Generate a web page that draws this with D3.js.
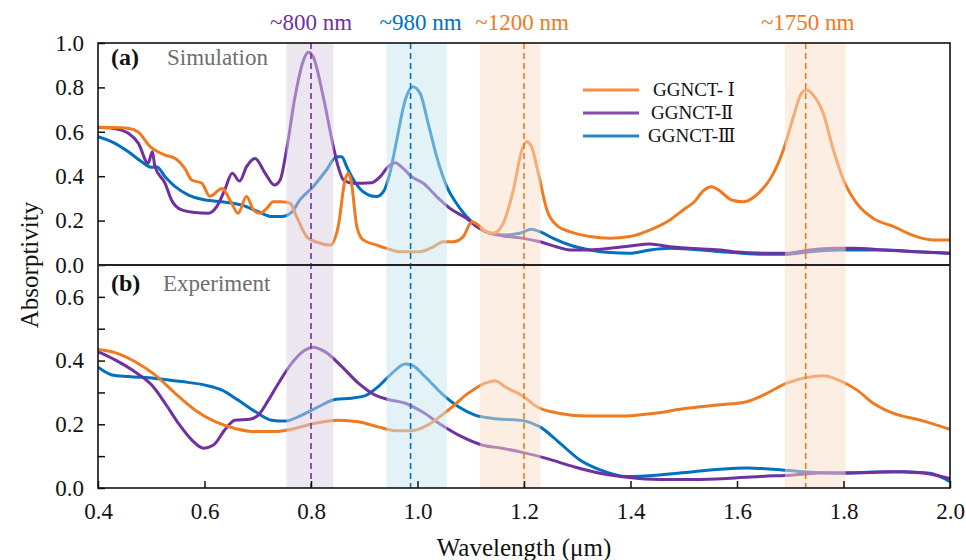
<!DOCTYPE html>
<html>
<head>
<meta charset="utf-8">
<script src="https://cdn.jsdelivr.net/npm/d3@7"></script>
<style>
  body { margin: 0; background: #fff; }
  text { font-family: "Liberation Serif", "Times New Roman", serif; }
</style>
</head>
<body>
<svg id="chart" width="966" height="560"></svg>
<script>
// ---- data (wavelength in um, absorptivity) ----
var seriesNames = ["GGNCT- ", "GGNCT-", "GGNCT-"];
var seriesNumerals = ["\u2160", "\u2161", "\u2162"];
var seriesColors = ["#F07A20", "#7030A0", "#0070C0"];

var simI = [[0.40,0.62],[0.456,0.616],[0.475,0.60],[0.498,0.533],[0.526,0.495],[0.545,0.48],[0.563,0.435],[0.576,0.383],[0.595,0.368],[0.610,0.31],[0.633,0.345],[0.651,0.278],[0.663,0.233],[0.679,0.308],[0.692,0.248],[0.704,0.233],[0.717,0.255],[0.729,0.285],[0.745,0.285],[0.761,0.278],[0.773,0.218],[0.792,0.128],[0.817,0.098],[0.836,0.09],[0.851,0.173],[0.864,0.383],[0.870,0.413],[0.876,0.368],[0.886,0.173],[0.898,0.113],[0.923,0.09],[0.942,0.075],[0.967,0.06],[1.005,0.06],[1.030,0.082],[1.048,0.105],[1.067,0.105],[1.086,0.128],[1.102,0.195],[1.114,0.18],[1.124,0.158],[1.142,0.143],[1.161,0.188],[1.180,0.338],[1.196,0.518],[1.205,0.555],[1.214,0.533],[1.227,0.413],[1.243,0.248],[1.261,0.18],[1.286,0.15],[1.324,0.128],[1.361,0.12],[1.399,0.128],[1.437,0.158],[1.474,0.203],[1.499,0.248],[1.52,0.285],[1.537,0.335],[1.552,0.353],[1.567,0.335],[1.590,0.293],[1.612,0.285],[1.640,0.323],[1.665,0.398],[1.687,0.518],[1.706,0.668],[1.721,0.773],[1.730,0.788],[1.743,0.766],[1.762,0.683],[1.781,0.518],[1.800,0.383],[1.825,0.278],[1.856,0.21],[1.894,0.173],[1.937,0.128],[1.969,0.113],[2.0,0.113]];

var simII = [[0.40,0.62],[0.43,0.615],[0.457,0.593],[0.476,0.548],[0.494,0.458],[0.502,0.51],[0.507,0.443],[0.526,0.368],[0.538,0.293],[0.557,0.248],[0.582,0.236],[0.607,0.233],[0.623,0.263],[0.638,0.338],[0.652,0.413],[0.666,0.378],[0.679,0.443],[0.695,0.48],[0.714,0.413],[0.731,0.36],[0.742,0.383],[0.754,0.518],[0.770,0.758],[0.786,0.923],[0.795,0.958],[0.804,0.938],[0.823,0.758],[0.842,0.533],[0.851,0.443],[0.861,0.383],[0.880,0.368],[0.914,0.371],[0.930,0.398],[0.945,0.443],[0.958,0.461],[0.973,0.435],[0.989,0.398],[1.011,0.368],[1.036,0.308],[1.061,0.255],[1.092,0.21],[1.11,0.175],[1.13,0.148],[1.161,0.131],[1.199,0.12],[1.230,0.105],[1.261,0.082],[1.286,0.068],[1.324,0.068],[1.361,0.075],[1.399,0.086],[1.437,0.095],[1.474,0.082],[1.512,0.075],[1.568,0.068],[1.593,0.06],[1.656,0.053],[1.693,0.053],[1.737,0.068],[1.781,0.075],[1.818,0.075],[1.875,0.068],[1.937,0.06],[2.0,0.053]];

var simIII = [[0.40,0.578],[0.432,0.548],[0.457,0.51],[0.482,0.465],[0.501,0.44],[0.51,0.443],[0.526,0.398],[0.545,0.353],[0.570,0.315],[0.595,0.296],[0.632,0.285],[0.670,0.27],[0.701,0.24],[0.726,0.218],[0.745,0.218],[0.764,0.238],[0.779,0.293],[0.804,0.353],[0.829,0.428],[0.848,0.488],[0.858,0.488],[0.867,0.443],[0.880,0.383],[0.898,0.33],[0.923,0.308],[0.936,0.33],[0.948,0.413],[0.961,0.563],[0.977,0.743],[0.991,0.803],[1.005,0.773],[1.020,0.638],[1.036,0.488],[1.055,0.353],[1.073,0.278],[1.092,0.218],[1.117,0.165],[1.13,0.148],[1.161,0.135],[1.192,0.143],[1.214,0.161],[1.230,0.15],[1.255,0.12],[1.286,0.09],[1.324,0.068],[1.361,0.056],[1.399,0.053],[1.437,0.068],[1.474,0.075],[1.512,0.071],[1.568,0.06],[1.593,0.056],[1.656,0.048],[1.693,0.048],[1.737,0.06],[1.793,0.068],[1.875,0.068],[1.937,0.06],[2.0,0.053]];

var expI = [[0.40,0.435],[0.432,0.425],[0.469,0.397],[0.507,0.355],[0.545,0.297],[0.582,0.245],[0.620,0.208],[0.657,0.187],[0.695,0.177],[0.732,0.177],[0.770,0.187],[0.807,0.203],[0.851,0.213],[0.889,0.208],[0.926,0.192],[0.958,0.18],[0.989,0.18],[1.020,0.198],[1.058,0.245],[1.095,0.297],[1.127,0.329],[1.146,0.337],[1.164,0.318],[1.199,0.287],[1.224,0.255],[1.268,0.234],[1.318,0.226],[1.380,0.226],[1.443,0.234],[1.505,0.25],[1.568,0.261],[1.618,0.271],[1.656,0.297],[1.693,0.329],[1.731,0.347],[1.762,0.352],[1.793,0.337],[1.825,0.308],[1.856,0.266],[1.894,0.234],[1.944,0.213],[2.0,0.184]];

var expII = [[0.40,0.428],[0.432,0.402],[0.469,0.365],[0.501,0.323],[0.526,0.266],[0.551,0.203],[0.576,0.151],[0.598,0.125],[0.617,0.135],[0.638,0.182],[0.657,0.213],[0.685,0.216],[0.701,0.229],[0.720,0.276],[0.739,0.329],[0.764,0.392],[0.789,0.433],[0.804,0.442],[0.826,0.428],[0.858,0.381],[0.889,0.329],[0.920,0.292],[0.945,0.278],[0.977,0.266],[1.008,0.24],[1.045,0.198],[1.083,0.161],[1.121,0.135],[1.158,0.125],[1.199,0.111],[1.242,0.093],[1.293,0.067],[1.343,0.046],[1.393,0.034],[1.455,0.027],[1.518,0.027],[1.581,0.03],[1.643,0.036],[1.706,0.041],[1.768,0.048],[1.831,0.048],[1.894,0.051],[1.944,0.048],[2.0,0.03]];

var expIII = [[0.40,0.379],[0.41,0.368],[0.426,0.355],[0.457,0.35],[0.507,0.344],[0.557,0.334],[0.601,0.323],[0.632,0.308],[0.663,0.276],[0.695,0.24],[0.726,0.213],[0.751,0.21],[0.783,0.229],[0.814,0.255],[0.845,0.278],[0.876,0.282],[0.901,0.289],[0.926,0.318],[0.952,0.36],[0.977,0.389],[0.989,0.386],[1.014,0.35],[1.045,0.297],[1.077,0.255],[1.108,0.229],[1.139,0.219],[1.199,0.211],[1.230,0.192],[1.268,0.14],[1.305,0.088],[1.343,0.057],[1.393,0.036],[1.455,0.041],[1.518,0.051],[1.568,0.059],[1.618,0.063],[1.668,0.059],[1.731,0.05],[1.793,0.046],[1.856,0.05],[1.912,0.051],[1.962,0.046],[2.0,0.02]];

// highlighted resonance bands [from, to] and their centre markers
var bandRanges = [[0.754,0.842],[0.942,1.055],[1.117,1.231],[1.69,1.804]];
var bandMarkers = [0.80, 0.987, 1.20, 1.729];
var bandLabels = ["~800 nm", "~980 nm", "~1200 nm", "~1750 nm"];
var bandFills = ["#D9CDE1", "#C7E5EF", "#FBDDC9"];
var bandLineColors = ["#7030A0", "#0070C0", "#F07A20", "#F07A20"];
var bandFillIdx = [0, 1, 2, 2];

var xTicks = [0.4, 0.6, 0.8, 1.0, 1.2, 1.4, 1.6, 1.8, 2.0];
var yTicksA = [0, 0.2, 0.4, 0.6, 0.8, 1.0];
var yTicksB = [0, 0.1, 0.2, 0.3, 0.4, 0.5, 0.6];

(function() {
  var svg = d3.select("#chart");
  var left = 98, right = 950, topY = 43, midY = 265, bottom = 488;
  var serif = "'Liberation Serif', 'Times New Roman', serif";

  var x = d3.scaleLinear().domain([0.4, 2.0]).range([left, right]);
  var ya = d3.scaleLinear().domain([0, 1.0]).range([midY, topY]);
  var yb = d3.scaleLinear().domain([0, 0.7]).range([bottom, midY]);

  var defs = svg.append("defs");
  defs.append("clipPath").attr("id", "clipA")
    .append("rect").attr("x", left).attr("y", topY).attr("width", right - left).attr("height", midY - topY);
  defs.append("clipPath").attr("id", "clipB")
    .append("rect").attr("x", left).attr("y", midY).attr("width", right - left).attr("height", bottom - midY);

  function drawLines(data, yScale, clip) {
    var g = svg.append("g").attr("clip-path", "url(#" + clip + ")");
    var line = d3.line()
      .x(function(d) { return x(d[0]); })
      .y(function(d) { return yScale(d[1]); })
      .curve(d3.curveMonotoneX);
    [2, 1, 0].forEach(function(i) {
      g.append("path")
        .attr("d", line(data[i]))
        .attr("fill", "none")
        .attr("stroke", seriesColors[i])
        .attr("stroke-width", 3)
        .attr("stroke-linejoin", "round")
        .attr("stroke-linecap", "round");
    });
  }

  drawLines([simI, simII, simIII], ya, "clipA");
  drawLines([expI, expII, expIII], yb, "clipB");

  // bands (semi-transparent, over the lines)
  svg.append("g").selectAll("rect")
    .data(bandRanges)
    .enter()
    .append("rect")
      .attr("x", function(d) { return x(d[0]); })
      .attr("y", topY)
      .attr("width", function(d) { return x(d[1]) - x(d[0]); })
      .attr("height", bottom - topY)
      .style("fill", function(d, i) { return bandFills[bandFillIdx[i]]; })
      .style("opacity", 0.5);

  svg.append("g").selectAll("line")
    .data(bandMarkers)
    .enter()
    .append("line")
      .attr("x1", function(d) { return x(d); })
      .attr("x2", function(d) { return x(d); })
      .attr("y1", topY)
      .attr("y2", bottom)
      .attr("stroke", function(d, i) { return bandLineColors[i]; })
      .attr("stroke-width", 1.6)
      .attr("stroke-dasharray", "6,4");

  var labelDx = [0, 10, -2, 2];
  svg.append("g").selectAll("text")
    .data(bandLabels)
    .enter()
    .append("text")
      .attr("x", function(d, i) { return x(bandMarkers[i]) + labelDx[i]; })
      .attr("y", 30)
      .attr("text-anchor", "middle")
      .style("font-size", "23px")
      .style("fill", function(d, i) { return bandLineColors[i]; })
      .text(function(d) { return d; });

  // ---- axes ----
  var fmt = d3.format(".1f");
  var axA = svg.append("g").attr("transform", "translate(" + left + ",0)")
    .call(d3.axisLeft(ya).tickValues(yTicksA).tickSizeInner(-7).tickSizeOuter(0).tickPadding(14).tickFormat(fmt));
  var axB = svg.append("g").attr("transform", "translate(" + left + ",0)")
    .call(d3.axisLeft(yb).tickValues(yTicksB).tickSizeInner(-7).tickSizeOuter(0).tickPadding(14)
      .tickFormat(function(d) { return Math.round(d * 10) % 2 === 0 ? fmt(d) : ""; }));
  var axX = svg.append("g").attr("transform", "translate(0," + bottom + ")")
    .call(d3.axisBottom(x).tickValues(xTicks).tickSizeInner(-7).tickSizeOuter(0).tickPadding(15).tickFormat(fmt));

  [axA, axB, axX].forEach(function(ax) {
    ax.attr("font-family", serif).attr("font-size", 23);
    ax.select(".domain").remove();
    ax.selectAll("line").attr("stroke", "#111").attr("stroke-width", 1.5);
    ax.selectAll("text").style("fill", "#111");
  });

  // frames
  svg.append("rect").attr("x", left).attr("y", topY).attr("width", right - left).attr("height", bottom - topY)
    .attr("fill", "none").attr("stroke", "#111").attr("stroke-width", 1.6);
  svg.append("line").attr("x1", left).attr("x2", right).attr("y1", midY).attr("y2", midY)
    .attr("stroke", "#222").attr("stroke-width", 2.2);

  // panel titles
  svg.append("text").attr("x", 111).attr("y", 65).style("font-size", "24px").style("font-weight", "bold")
    .style("fill", "#111").text("(a)");
  svg.append("text").attr("x", 167).attr("y", 65).style("font-size", "23px").style("fill", "#6e6e6e").text("Simulation");
  svg.append("text").attr("x", 111).attr("y", 291).style("font-size", "24px").style("font-weight", "bold")
    .style("fill", "#111").text("(b)");
  svg.append("text").attr("x", 163).attr("y", 291).style("font-size", "23px").style("fill", "#6e6e6e").text("Experiment");

  // axis titles
  svg.append("text")
    .attr("transform", "translate(38,265) rotate(-90)")
    .attr("text-anchor", "middle")
    .style("font-size", "25px").style("fill", "#111")
    .text("Absorptivity");
  svg.append("text")
    .attr("x", 524).attr("y", 556)
    .attr("text-anchor", "middle")
    .style("font-size", "25px").style("fill", "#111")
    .text("Wavelength (\u03bcm)");

  // legend
  var legend = svg.append("g");
  var legendY = [90, 113, 136];
  var legendTextX = [653, 651, 648];
  seriesNames.forEach(function(name, i) {
    legend.append("line")
      .attr("x1", 583).attr("x2", 639)
      .attr("y1", legendY[i]).attr("y2", legendY[i])
      .attr("stroke", seriesColors[i]).attr("stroke-width", 3).style("opacity", 0.85);
    var t = legend.append("text")
      .attr("x", legendTextX[i]).attr("y", legendY[i] + 6)
      .style("font-size", "19px").style("fill", "#111")
      .text(name);
    t.append("tspan")
      .style("font-family", "'DejaVu Serif', 'Noto Sans CJK SC', serif")
      .style("font-size", "18px")
      .text(seriesNumerals[i]);
  });
})();
</script>
</body>
</html>
